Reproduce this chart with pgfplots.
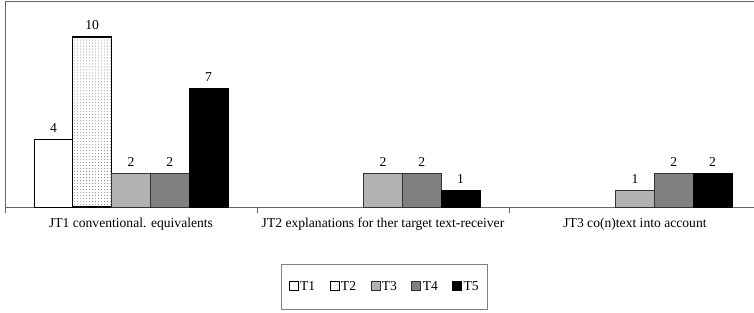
\documentclass[border=0pt]{standalone}
\usepackage{fontspec}
\setmainfont{Liberation Serif}
\usepackage{pgfplots}
\pgfplotsset{compat=1.18}
\usetikzlibrary{patterns}
\definecolor{cT3}{HTML}{B2B2B2}
\definecolor{cT4}{HTML}{808080}
\begin{document}
\fontsize{13.6bp}{16bp}\selectfont
\begin{tikzpicture}[x=1bp,y=1bp]
\useasboundingbox (0,0) rectangle (754,312);
\begin{axis}[
  at={(5bp,105bp)}, anchor=south west,
  scale only axis, width=756bp, height=206bp,
  xmin=-0.5, xmax=2.5, ymin=0, ymax=12.12,
  ybar=0pt, bar width=38.8bp,
  axis line style={gray!80!black, line width=0.8bp},
  ytick=\empty,
  xtick={0,1,2},
  xticklabels={JT1 conventional. equivalents, JT2 explanations for ther target text-receiver, JT3 co(n)text into account},
  major tick length=0pt,
  extra x ticks={-0.5,0.5,1.5,2.5},
  extra x tick labels={},
  extra x tick style={major tick length=6bp, tick align=outside, tick pos=bottom, tick style={gray!80!black, line width=0.8bp}},
  xticklabel style={font=\fontsize{13.6bp}{16bp}\selectfont, yshift=-6bp},
  nodes near coords,
  every node near coord/.append style={font=\fontsize{13.6bp}{16bp}\selectfont, yshift=2bp, /pgf/number format/assume math mode=true, text=black},
  legend style={at={(0.502,-0.386)}, anchor=center, draw=gray, line width=0.8bp,
    font=\fontsize{13.6bp}{16bp}\selectfont, legend columns=-1, inner xsep=7bp, inner ysep=15bp,
    nodes={anchor=base west, inner xsep=1.5bp}},
  /tikz/every even column/.append style={column sep=13bp},
  legend image code/.code={\draw[#1, line width=0.8bp] (0bp,0bp) rectangle (9bp,9bp);},
  clip=false,
]
\addplot[draw=black, fill=white, line width=0.8bp] coordinates {(0,4)};
\addplot[draw=black, fill=white, line width=1.3bp, postaction={pattern=dots, pattern color=gray}] coordinates {(0,10)};
\addplot[draw=black!80, fill=cT3, line width=0.8bp] coordinates {(0,2) (1,2) (2,1)};
\addplot[draw=black!80, fill=cT4, line width=0.8bp] coordinates {(0,2) (1,2) (2,2)};
\addplot[draw=black, fill=black, line width=0.8bp] coordinates {(0,7) (1,1) (2,2)};
\legend{T1,T2,T3,T4,T5}
\end{axis}
\end{tikzpicture}
\end{document}
